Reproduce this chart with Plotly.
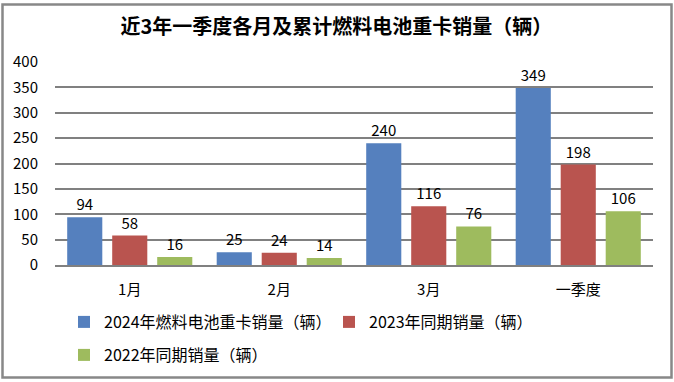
import plotly.graph_objects as go

categories = ["1月", "2月", "3月", "一季度"]
series_names = ["2024年燃料电池重卡销量（辆）", "2023年同期销量（辆）", "2022年同期销量（辆）"]
sales_2024 = [94, 25, 240, 349]
sales_2023 = [58, 24, 116, 198]
sales_2022 = [16, 14, 76, 106]
colors = ["#5580BE", "#B9544F", "#9EBB5E"]
legend_ids = ["legend", "legend", "legend2"]
y_ticks = [0, 50, 100, 150, 200, 250, 300, 350, 400]

FONT = "Noto Sans CJK SC, Liberation Sans, sans-serif"

W, H = 674, 382
L, R, T, B = 55, 21, 62, 117
pw, ph = W - L - R, H - T - B

fig = go.Figure()
for name, vals, col, lg in zip(series_names, [sales_2024, sales_2023, sales_2022], colors, legend_ids):
    fig.add_trace(go.Bar(
        name=name, x=categories, y=vals, marker=dict(color=col, line=dict(width=0)),
        text=[str(v) for v in vals], textposition="outside",
        textfont=dict(size=15, color="#000000", family=FONT),
        cliponaxis=False, legend=lg,
    ))

def px_x(p):
    return (p - L) / pw

def px_y(p):
    return (H - B - p) / ph

leg_common = dict(orientation="h", xref="container", yref="container",
                  xanchor="left", yanchor="top", entrywidth=220, entrywidthmode="pixels",
                  itemwidth=30, font=dict(size=16, color="#000000", family=FONT),
                  bgcolor="rgba(0,0,0,0)", borderwidth=0)

fig.update_layout(
    width=W, height=H,
    margin=dict(l=L, r=R, t=T, b=B, autoexpand=False),
    paper_bgcolor="white", plot_bgcolor="white",
    barmode="group", bargap=0.097, bargroupgap=0.22,
    title=dict(text="<b>近3年一季度各月及累计燃料电池重卡销量（辆）</b>",
               x=0.499, xanchor="center", y=1 - 27 / H, yanchor="middle",
               font=dict(size=20, color="#000000", family=FONT)),
    font=dict(family=FONT, color="#000000"),
    xaxis=dict(showgrid=False, showline=True, linecolor="#808080", linewidth=2,
               ticks="", tickfont=dict(size=15, color="#000000"), ticklabelstandoff=10,
               fixedrange=True, automargin=False),
    yaxis=dict(range=[0, 400], tickvals=y_ticks, showgrid=True, gridcolor="#808080",
               gridwidth=2, zeroline=False, showline=False, ticks="",
               tickfont=dict(size=15, color="#000000"), ticklabelstandoff=16,
               fixedrange=True, automargin=False),
    legend=dict(x=64 / W, y=1 - 305 / H, **leg_common),
    legend2=dict(x=64 / W, y=1 - 338 / H, **leg_common),
    showlegend=True,
)

fig.add_shape(type="rect", xref="paper", yref="paper",
              x0=px_x(2.5), x1=px_x(671.5), y0=px_y(377.5), y1=px_y(4.5),
              line=dict(color="#888888", width=2.5), fillcolor="rgba(0,0,0,0)", layer="above")

fig.write_html("out.html", config={"displayModeBar": False},
               post_script="document.body.style.margin='0px';")
